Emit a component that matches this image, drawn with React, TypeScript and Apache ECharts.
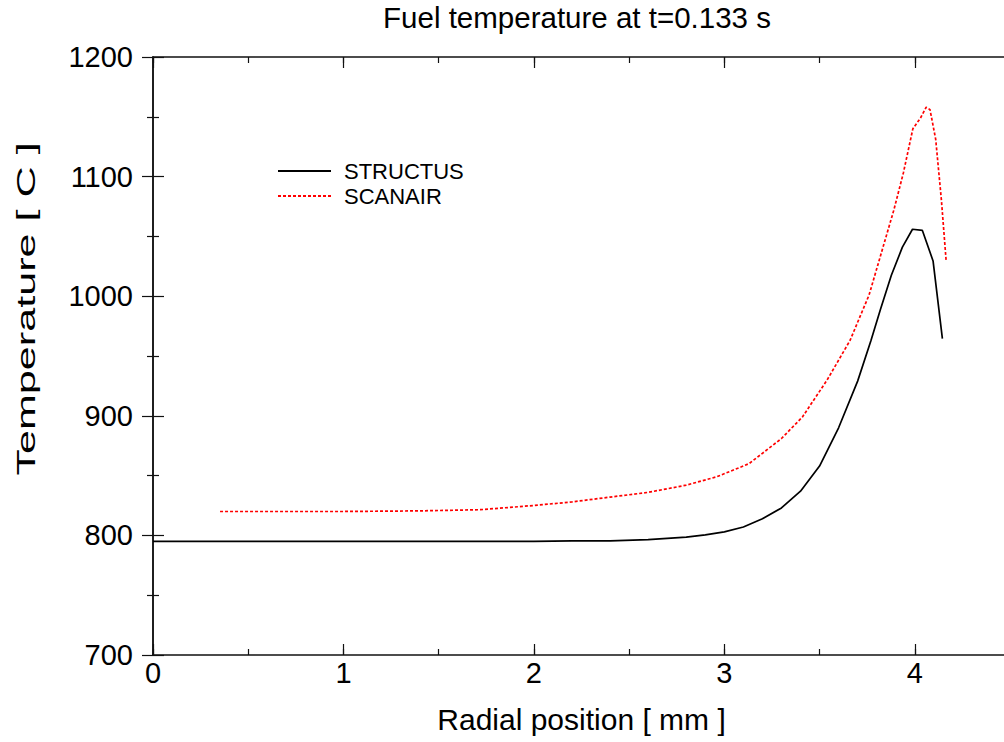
import React, { useEffect, useRef } from "react";
import * as echarts from "echarts";

const titleText = "Fuel temperature at t=0.133 s";
const xName = "Radial position [ mm ]";
const yName = "Temperature [ C ]";
const seriesNames = ["STRUCTUS", "SCANAIR"];

const structusX = [0, 0.5, 1.0, 1.5, 2.0, 2.2, 2.4, 2.6, 2.8, 2.9, 3.0, 3.1, 3.2, 3.3, 3.4, 3.5, 3.6, 3.7, 3.77, 3.82, 3.877, 3.935, 3.988, 4.04, 4.096, 4.145];
const structusY = [795, 795, 795, 795, 795, 795.5, 795.5, 796.5, 798.5, 800.5, 803, 807, 814, 823, 837, 858, 890, 929, 963, 989, 1017.5, 1041, 1056, 1055, 1029.5, 964.5];

const scanairX = [0.352, 0.6, 1.0, 1.4, 1.72, 2.0, 2.2, 2.4, 2.6, 2.8, 2.96, 3.13, 3.3, 3.41, 3.54, 3.66, 3.76, 3.89, 3.94, 3.99, 4.03, 4.06, 4.08, 4.11, 4.14, 4.165];
const scanairY = [820, 820, 820, 820.5, 821.5, 825, 828, 832, 836, 842, 849, 860, 881, 899, 930, 963, 1001, 1072, 1103, 1140, 1149, 1158, 1156, 1131, 1080, 1029];

const FONT = "'Liberation Sans', Arial, Helvetica, sans-serif";

export default function App() {
  const ref = useRef<HTMLDivElement>(null);
  useEffect(() => {
    if (!ref.current) return;
    const chart = echarts.init(ref.current, undefined, { renderer: "svg" });
    const axisLine = { show: true, lineStyle: { color: "#111", width: 1.5 } };
    const majorTick = { show: true, inside: true, length: 11, lineStyle: { color: "#111", width: 1.2 } };
    const minorTickX = { show: true, inside: true, length: 6, lineStyle: { color: "#111", width: 1.2 } };
    const baseX = { type: "value", min: 0, max: 4.5, gridIndex: 0, splitLine: { show: false } };
    chart.setOption({
      animation: false,
      backgroundColor: "#fff",
      title: {
        text: titleText,
        left: 577,
        top: 2,
        textAlign: "center",
        padding: 0,
        textStyle: { fontFamily: FONT, fontSize: 29.5, fontWeight: "normal", color: "#000" },
      },
      legend: {
        data: seriesNames,
        orient: "vertical",
        left: 277,
        top: 160,
        padding: 0,
        itemWidth: 53,
        itemHeight: 14,
        itemGap: 3,
        align: "left",
        itemStyle: { opacity: 0, borderWidth: 0 },
        textStyle: { fontFamily: FONT, fontSize: 22, color: "#000", padding: [0, 0, 0, 8] },
      },
      grid: { left: 153, top: 57, width: 857, height: 598, containLabel: false, outerBoundsMode: "none" },
      xAxis: [
        {
          ...baseX,
          position: "bottom",
          interval: 1,
          axisLine,
          axisTick: majorTick,
          axisLabel: { show: true, margin: 3, showMaxLabel: false, fontFamily: FONT, fontSize: 29, color: "#000" },
          name: xName,
          nameLocation: "middle",
          nameGap: 49,
          nameTextStyle: { fontFamily: FONT, fontSize: 30, color: "#000" },
        },
        {
          ...baseX,
          position: "bottom",
          interval: 0.5,
          axisLine: { show: false },
          axisTick: minorTickX,
          axisLabel: { show: false },
        },
        {
          ...baseX,
          position: "top",
          interval: 1,
          axisLine,
          axisTick: majorTick,
          axisLabel: { show: false },
        },
        {
          ...baseX,
          position: "top",
          interval: 0.5,
          axisLine: { show: false },
          axisTick: minorTickX,
          axisLabel: { show: false },
        },
      ],
      yAxis: [
        {
          type: "value",
          min: 700,
          max: 1200,
          interval: 100,
          position: "left",
          axisLine,
          axisTick: majorTick,
          minorTick: { show: true, splitNumber: 2, length: 6, lineStyle: { color: "#111", width: 1.2 } },
          splitLine: { show: false },
          minorSplitLine: { show: false },
          axisLabel: {
            show: true,
            margin: 20,
            fontFamily: FONT,
            fontSize: 29,
            color: "#000",
            formatter: (v: number) => String(v),
          },
        },
        {
          type: "value",
          min: 700,
          max: 1200,
          interval: 100,
          position: "right",
          axisLine,
          axisTick: majorTick,
          minorTick: { show: true, splitNumber: 2, length: 6, lineStyle: { color: "#111", width: 1.2 } },
          splitLine: { show: false },
          axisLabel: { show: false },
        },
      ],
      graphic: [
        {
          type: "text",
          x: 26,
          y: 309,
          rotation: Math.PI / 2,
          scaleX: 1.66,
          scaleY: 1,
          style: {
            text: yName,
            font: `26px ${FONT}`,
            fill: "#000",
            textAlign: "center",
            textVerticalAlign: "middle",
          },
        },
      ],
      series: [
        {
          name: seriesNames[0],
          type: "line",
          xAxisIndex: 0,
          yAxisIndex: 0,
          symbol: "none",
          color: "#000",
          lineStyle: { color: "#000", width: 1.7, type: "solid" },
          data: structusX.map((x, i) => [x, structusY[i]]),
        },
        {
          name: seriesNames[1],
          type: "line",
          xAxisIndex: 0,
          yAxisIndex: 0,
          symbol: "none",
          color: "#ff0000",
          lineStyle: { color: "#ff0000", width: 1.7, type: [3, 2] },
          data: scanairX.map((x, i) => [x, scanairY[i]]),
        },
      ],
    });
    return () => chart.dispose();
  }, []);
  return <div ref={ref} style={{ position: "fixed", left: 0, top: 0, width: 1004, height: 742 }} />;
}
